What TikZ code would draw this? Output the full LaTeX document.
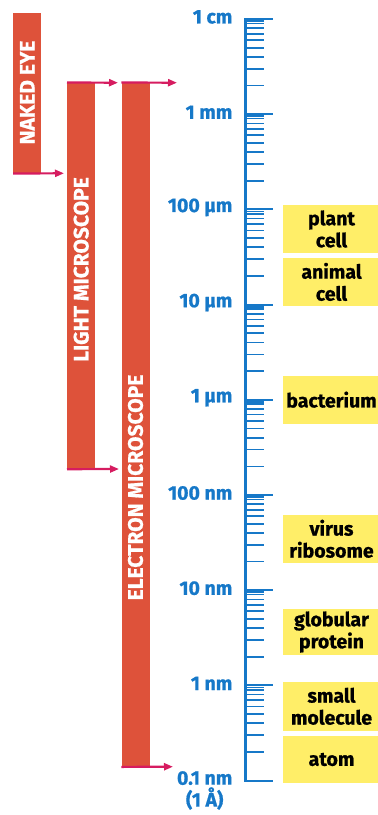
\documentclass[tikz,border=0pt]{standalone}
\usepackage{fontspec}
\setsansfont{Fira Sans}[BoldFeatures={FakeBold=0.8}]
\usepackage{xcolor}
\usepackage{tikz}
\usetikzlibrary{arrows.meta,positioning}
\definecolor{barred}{RGB}{222,82,58}
\definecolor{reachpink}{RGB}{214,28,96}
\definecolor{scaleblue}{RGB}{22,120,200}
\definecolor{sizeyellow}{RGB}{255,238,104}
\tikzset{
  bar/.style={fill=barred,draw=none,minimum width=28pt,inner sep=0pt},
  barlabel/.style={rotate=90,text=white,inner sep=0pt,
    font=\sffamily\bfseries\fontsize{21}{22}\selectfont},
  reach/.style={line width=2.2pt,reachpink,-{Triangle[length=9pt,width=7pt]}},
  scaleline/.style={line width=2.6pt,scaleblue},
  tickmajor/.style={line width=2pt,scaleblue},
  tickminor/.style={line width=1.7pt,scaleblue},
  scalelabel/.style={anchor=east,text=scaleblue,inner sep=0pt,align=center,
    font=\sffamily\bfseries\fontsize{19.5}{22}\selectfont},
  sizebox/.style={fill=sizeyellow,draw=none,minimum width=97pt,minimum height=48pt,
    inner sep=0pt,align=center,font=\sffamily\bfseries\fontsize{19.5}{22}\selectfont}
}
\begin{document}
\begin{tikzpicture}[x=1pt,y=-1pt]
  \useasboundingbox (0,0) rectangle (378,815);
  % range bars
  \node[bar,minimum height=160pt] (eye) at (27.3,93.3) {};
  \node[bar,minimum height=386.3pt] (light) at (81.2,275.85) {};
  \node[bar,minimum height=684pt] (electron) at (135.5,424.7) {};
  \node[barlabel] (eyetext) at (27.3,92.5) {NAKED EYE};
  \node[barlabel] (lighttext) at (81.2,269.5) {LIGHT MICROSCOPE};
  \node[barlabel] (electrontext) at (135.5,487.5) {ELECTRON MICROSCOPE};
  % limits of each bar
  \coordinate (eyeend) at (64,173.3);
  \coordinate (lighttop) at (118,82.7);
  \coordinate (lightend) at (119,469);
  \coordinate (electrontop) at (177,82.7);
  \coordinate (electronend) at (173,766.7);
  \draw[reach] (eye.south west) -- (eyeend);
  \draw[reach] (light.north west) -- (lighttop);
  \draw[reach] (light.south west) -- (lightend);
  \draw[reach] (electron.north west) -- (electrontop);
  \draw[reach] (electron.south west) -- (electronend);
  % log scale
  \draw[scaleline] (245.7,18) -- (245.7,780.6);
  \foreach \d in {0,...,8} {\draw[tickmajor] (244.4,19+95.2*\d) -- ++(28.6,0);}
  \foreach \d in {0,...,7} {
    \foreach \k in {2,...,9,9.5} {
      \draw[tickminor] (245.7,{19+95.2*(\d+1-log10(\k))}) -- ++(18,0);
    }
  }
  \foreach \d/\t [count=\i] in {0/1 cm,1/1 mm,2/100 µm,3/10 µm,4/1 µm,5/100 nm,6/10 nm,7/1 nm}
    {\node[scalelabel] (mark\i) at (232.5,17+95.2*\d) {\t};}
  \node[scalelabel,anchor=north east] (mark9) at (232.5,771) {0.1 nm\\(1 Å)};
  % sizes of objects
  \node[sizebox] (plant) at (331.5,229) {plant\\cell};
  \node[sizebox] (animal) at (331.5,281.9) {animal\\cell};
  \node[sizebox] (bacterium) at (331.5,399.7) {bacterium};
  \node[sizebox] (virus) at (331.5,538.8) {virus\\ribosome};
  \node[sizebox,minimum height=46pt] (protein) at (331.5,632) {globular\\protein};
  \node[sizebox,minimum height=49pt] (molecule) at (331.5,706.3) {small\\molecule};
  \node[sizebox,minimum height=47pt] (atom) at (331.5,759.5) {atom};
\end{tikzpicture}
\end{document}
